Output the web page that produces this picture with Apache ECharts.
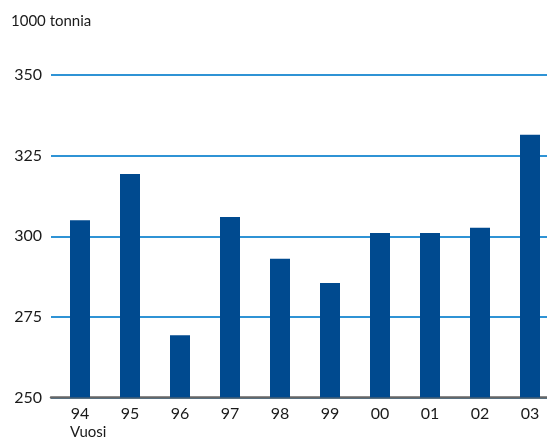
<!DOCTYPE html>
<html><head><meta charset="utf-8">
<script src="https://cdn.jsdelivr.net/npm/echarts@6/dist/echarts.min.js"></script>
<style>html,body{margin:0;padding:0;background:#fff}#c{width:547px;height:442px}</style>
</head><body><div id="c"></div>
<script>
const categories = ['94','95','96','97','98','99','00','01','02','03'];
const values = [305, 319.3, 269.3, 306, 293, 285.5, 301, 301, 302.6, 331.5];
const yTicks = [250, 275, 300, 325, 350];

const font = 'Lato, "Open Sans", sans-serif';
const chart = echarts.init(document.getElementById('c'));
chart.setOption({
  animation: false,
  backgroundColor: '#fff',
  title: { text: '1000 tonnia', left: 6, top: 9, textStyle: { fontFamily: font, fontSize: 15, fontWeight: 'normal', color: '#1a1a1a' } },
  graphic: [{ type: 'text', left: 70, top: 425, style: { text: 'Vuosi', font: '15px ' + font, fill: '#1a1a1a' } }],
  grid: [
    { left: 51, right: 0, top: 75, bottom: 44.5, outerBoundsMode: 'none', containLabel: false },
    { left: 55, width: 500, top: 75, bottom: 44.5, outerBoundsMode: 'none', containLabel: false }
  ],
  xAxis: [
    { gridIndex: 0, type: 'category', data: categories, axisLabel: { show: false }, axisTick: { show: false },
      axisLine: { lineStyle: { color: '#666', width: 2.5 } } },
    { gridIndex: 1, type: 'category', data: categories, axisTick: { show: false }, axisLine: { show: false },
      axisLabel: { margin: 8, fontFamily: font, fontSize: 16, color: '#1a1a1a' } }
  ],
  yAxis: [
    { gridIndex: 0, type: 'value', min: yTicks[0], max: yTicks[yTicks.length - 1], interval: 25,
      axisLabel: { margin: 9, fontFamily: font, fontSize: 16, color: '#1a1a1a' },
      axisLine: { show: false }, axisTick: { show: false },
      splitLine: { lineStyle: { color: '#2f93d5', width: 2 } } },
    { gridIndex: 1, type: 'value', min: yTicks[0], max: yTicks[yTicks.length - 1], interval: 25, show: false }
  ],
  series: [{
    type: 'bar', xAxisIndex: 1, yAxisIndex: 1, data: values, barWidth: 20,
    itemStyle: { color: '#004a8f' }
  }]
});
</script></body></html>
